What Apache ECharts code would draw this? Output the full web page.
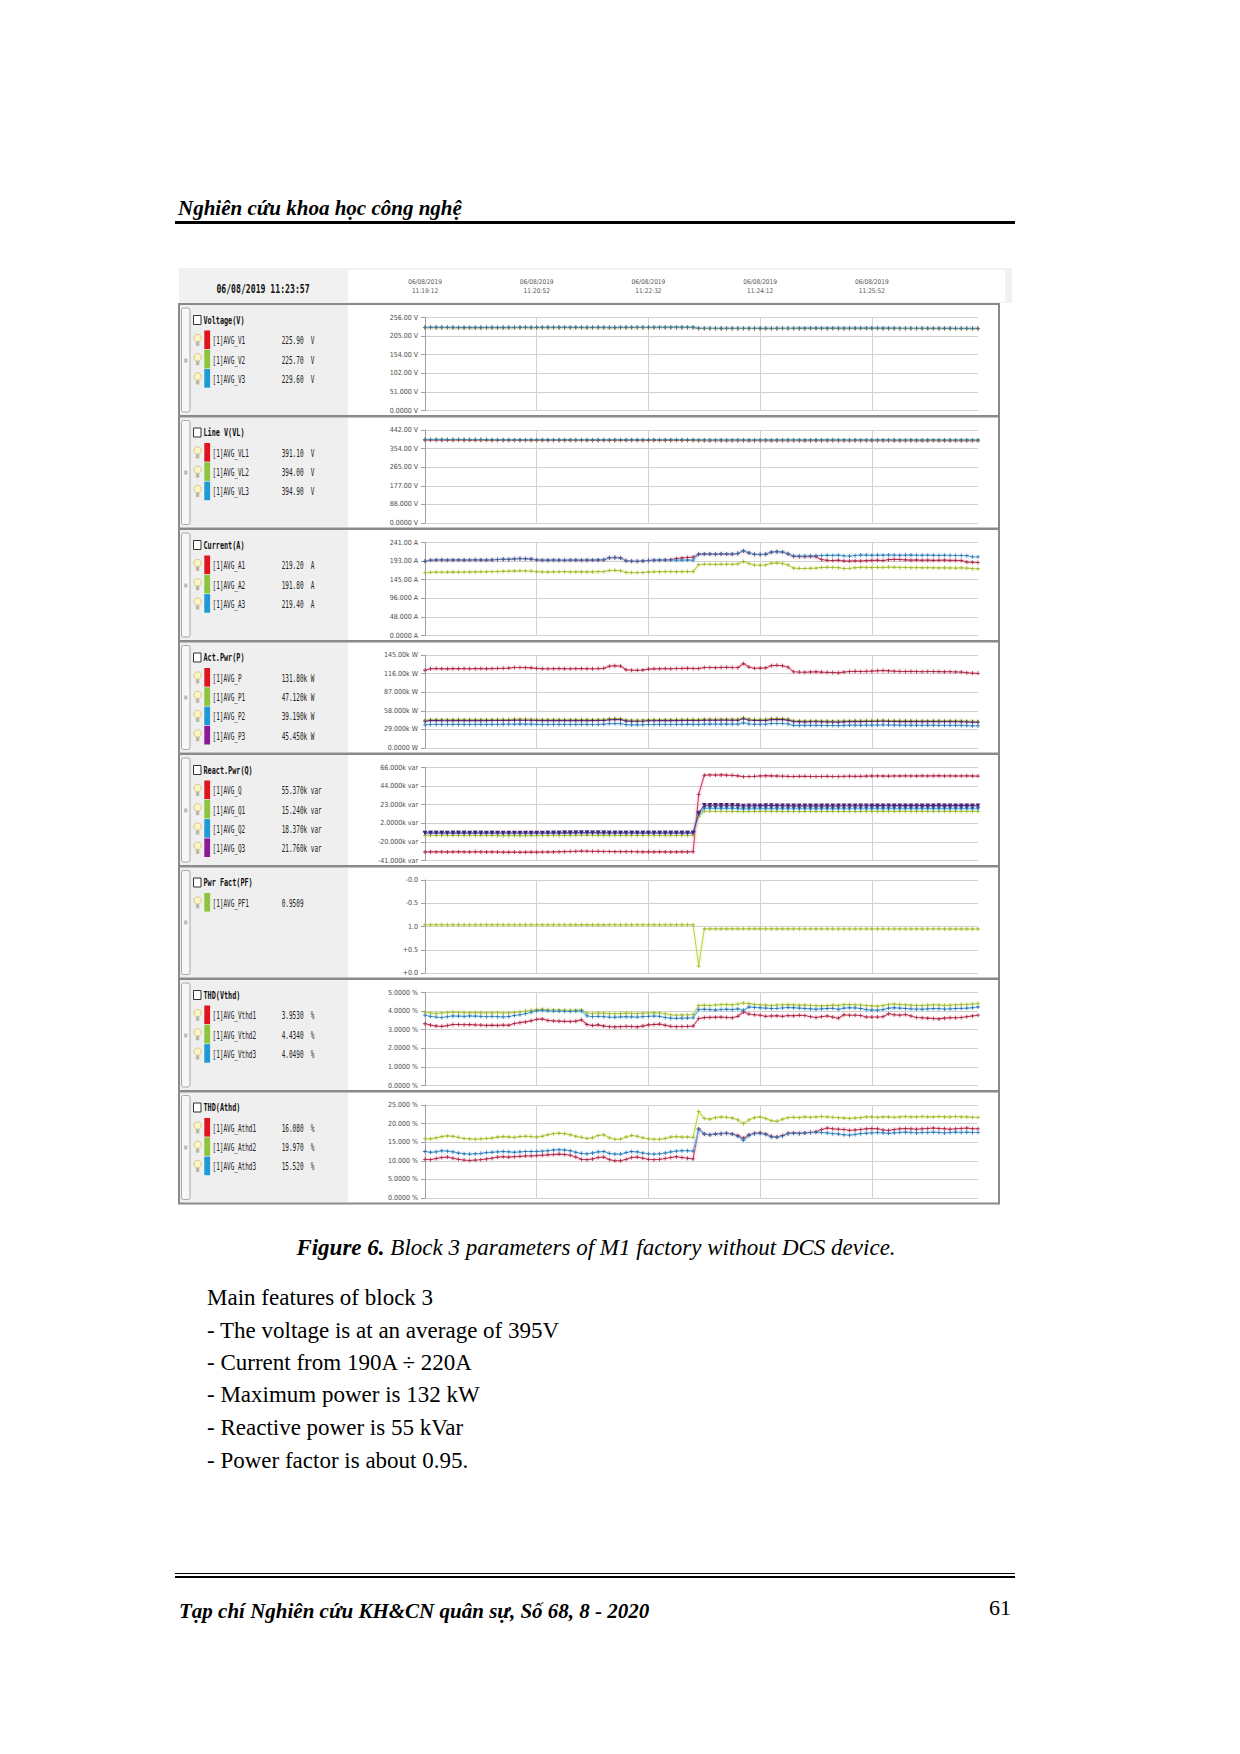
<!DOCTYPE html>
<html><head><meta charset="utf-8">
<script src="https://cdn.jsdelivr.net/npm/echarts@6/dist/echarts.min.js"></script>
<style>
body{margin:0;background:#fff;}
#page{position:relative;width:1240px;height:1754px;overflow:hidden;background:#fff;}
#chart{position:absolute;left:0;top:0;width:1240px;height:1754px;}
.t{position:absolute;white-space:nowrap;font-family:'Liberation Serif','Times New Roman',serif;color:#000;}
</style></head><body>
<div id="page">
<div id="chart"></div>
<div class="t" style="left:178px;top:197px;font-size:21px;font-weight:bold;font-style:italic;line-height:22px;">Nghiên cứu khoa học công nghệ</div>
<div style="position:absolute;left:175px;top:221px;width:840px;height:2.5px;background:#000"></div>
<div class="t" style="left:0;width:1192px;text-align:center;top:1235px;font-size:23px;font-style:italic;line-height:26px"><b>Figure 6.</b> Block 3 parameters of M1 factory without DCS device.</div>
<div class="t" style="left:207px;top:1285px;font-size:23px;line-height:26px">Main features of block 3</div>
<div class="t" style="left:207px;top:1318px;font-size:23px;line-height:26px">- The voltage is at an average of 395V</div>
<div class="t" style="left:207px;top:1350px;font-size:23px;line-height:26px">- Current from 190A ÷ 220A</div>
<div class="t" style="left:207px;top:1382px;font-size:23px;line-height:26px">- Maximum power is 132 kW</div>
<div class="t" style="left:207px;top:1415px;font-size:23px;line-height:26px">- Reactive power is 55 kVar</div>
<div class="t" style="left:207px;top:1448px;font-size:23px;line-height:26px">- Power factor is about 0.95.</div>
<div style="position:absolute;left:175px;top:1573px;width:840px;height:1px;background:#000"></div>
<div style="position:absolute;left:175px;top:1576px;width:840px;height:2px;background:#000"></div>
<div class="t" style="left:179px;top:1599px;font-size:21px;font-weight:bold;font-style:italic;line-height:24px">Tạp chí Nghiên cứu KH&amp;CN quân sự, Số 68, 8 - 2020</div>
<div class="t" style="left:989px;top:1596px;font-size:22px;line-height:24px">61</div>
</div>
<script>
// ---------------- DATA ----------------
const headerStamp = '06/08/2019 11:23:57';
const headerDate = '06/08/2019';

const V1 = [228.2,228.4,228.4,228.3,228.3,228.2,228.0,227.9,227.9,228.0,
 228.0,228.1,228.1,228.0,228.1,228.2,228.2,228.3,228.3,228.2,
 228.3,228.3,228.4,228.4,228.3,228.3,228.4,228.4,228.3,228.2,
 228.3,228.4,228.3,228.2,228.1,228.3,228.4,228.4,228.5,228.5,
 228.4,228.5,228.6,228.6,228.7,228.7,228.6,228.7,228.6,225.8,
 225.9,225.9,225.8,225.7,225.8,225.8,225.9,225.9,225.8,225.8,
 225.7,225.7,225.6,225.8,225.9,225.9,225.8,226.0,226.0,226.1,
 226.1,226.0,226.0,226.1,226.0,226.0,226.0,226.1,226.1,226.2,
 226.1,226.1,226.0,226.0,226.0,225.9,225.9,225.8,225.8,225.8,
 225.7,225.7,225.8,225.7,225.7,225.6,225.6,225.6,225.5,225.5];
const V2 = [228.0,228.2,228.2,228.1,228.1,228.0,227.8,227.7,227.7,227.8,
 227.8,227.9,227.9,227.8,227.9,228.0,228.0,228.1,228.1,228.0,
 228.1,228.1,228.2,228.2,228.1,228.1,228.2,228.2,228.1,228.0,
 228.1,228.2,228.1,228.0,227.9,228.1,228.2,228.2,228.3,228.3,
 228.2,228.3,228.4,228.4,228.5,228.5,228.4,228.5,228.4,225.6,
 225.7,225.7,225.6,225.5,225.6,225.6,225.7,225.7,225.6,225.6,
 225.5,225.5,225.4,225.6,225.7,225.7,225.6,225.8,225.8,225.9,
 225.9,225.8,225.8,225.9,225.8,225.8,225.8,225.9,225.9,226.0,
 225.9,225.9,225.8,225.8,225.8,225.7,225.7,225.6,225.6,225.6,
 225.5,225.5,225.6,225.5,225.5,225.4,225.4,225.4,225.3,225.3];
const V3 = [229.0,229.2,229.2,229.1,229.1,229.0,228.8,228.7,228.7,228.8,
 228.8,228.9,228.9,228.8,228.9,229.0,229.0,229.1,229.1,229.0,
 229.1,229.1,229.2,229.2,229.1,229.1,229.2,229.2,229.1,229.0,
 229.1,229.2,229.1,229.0,228.9,229.1,229.2,229.2,229.3,229.3,
 229.2,229.3,229.4,229.4,229.5,229.5,229.4,229.5,229.4,226.5,
 226.6,226.6,226.5,226.4,226.5,226.5,226.6,226.6,226.5,226.5,
 226.4,226.4,226.3,226.5,226.6,226.6,226.5,226.7,226.7,226.8,
 226.8,226.7,226.7,226.8,226.7,226.7,226.7,226.8,226.8,226.9,
 226.8,226.8,226.7,226.7,226.7,226.6,226.6,226.5,226.5,226.5,
 226.4,226.4,226.5,226.4,226.4,226.3,226.3,226.3,226.2,226.2];

const VL1 = [393.6,393.5,393.7,393.6,393.4,393.5,393.6,393.5,393.3,393.4,
 393.5,393.3,392.1,392.0,391.9,392.0,392.1,392.0,391.9,392.0,
 392.1,392.2,392.0,391.9,392.0,392.1,392.0,391.8,391.9,392.0,
 392.1,392.0,391.9,392.0,392.1,392.2,392.0,391.9,392.0,392.1,
 392.0,392.2,392.1,392.0,392.1,392.2,392.1,392.0,392.1,391.2,
 391.1,391.0,391.2,391.1,391.0,391.1,391.2,391.1,391.0,391.1,
 391.2,391.1,391.0,391.1,391.2,391.3,391.2,391.1,391.0,391.1,
 391.2,391.1,391.2,391.3,391.2,391.1,391.0,391.1,391.2,391.1,
 391.0,391.1,391.2,391.1,391.0,390.9,391.0,391.1,391.0,390.9,
 391.0,391.1,391.0,390.9,391.0,390.9,390.8,390.9,390.8,390.8];
const VL2 = [396.5,396.4,396.6,396.5,396.3,396.4,396.5,396.4,396.2,396.3,
 396.4,396.2,395.0,394.9,394.8,394.9,395.0,394.9,394.8,394.9,
 395.0,395.1,394.9,394.8,394.9,395.0,394.9,394.7,394.8,394.9,
 395.0,394.9,394.8,394.9,395.0,395.1,394.9,394.8,394.9,395.0,
 394.9,395.1,395.0,394.9,395.0,395.1,395.0,394.9,395.0,394.1,
 394.0,393.9,394.1,394.0,393.9,394.0,394.1,394.0,393.9,394.0,
 394.1,394.0,393.9,394.0,394.1,394.2,394.1,394.0,393.9,394.0,
 394.1,394.0,394.1,394.2,394.1,394.0,393.9,394.0,394.1,394.0,
 393.9,394.0,394.1,394.0,393.9,393.8,393.9,394.0,393.9,393.8,
 393.9,394.0,393.9,393.8,393.9,393.8,393.7,393.8,393.7,393.7];
const VL3 = [397.3,397.2,397.4,397.3,397.1,397.2,397.3,397.2,397.0,397.1,
 397.2,397.0,395.8,395.7,395.6,395.7,395.8,395.7,395.6,395.7,
 395.8,395.9,395.7,395.6,395.7,395.8,395.7,395.5,395.6,395.7,
 395.8,395.7,395.6,395.7,395.8,395.9,395.7,395.6,395.7,395.8,
 395.7,395.9,395.8,395.7,395.8,395.9,395.8,395.7,395.8,395.0,
 394.9,394.8,395.0,394.9,394.8,394.9,395.0,394.9,394.8,394.9,
 395.0,394.9,394.8,394.9,395.0,395.1,395.0,394.9,394.8,394.9,
 395.0,394.9,395.0,395.1,395.0,394.9,394.8,394.9,395.0,394.9,
 394.8,394.9,395.0,394.9,394.8,394.7,394.8,394.9,394.8,394.7,
 394.8,394.9,394.8,394.7,394.8,394.7,394.6,394.7,394.6,394.6];

const A1 = [192.3,195.0,195.5,195.8,195.3,195.5,195.6,195.2,195.5,195.8,
 195.6,195.4,195.9,196.8,197.5,197.2,198.5,199.2,198.8,198.0,
 195.8,195.2,195.0,195.3,195.1,194.9,195.2,195.4,195.0,195.2,
 195.4,195.6,196.0,201.5,202.0,200.8,193.5,192.6,192.3,193.0,
 194.5,195.0,195.3,195.6,196.4,199.5,200.8,202.0,203.2,210.5,
 211.2,211.0,210.6,211.3,211.0,210.8,212.2,219.2,214.0,210.3,
 209.8,210.6,216.0,217.1,216.3,211.5,205.0,204.5,204.3,204.6,
 204.2,196.5,195.0,194.2,195.0,193.1,192.8,193.5,193.2,194.0,
 194.6,195.0,194.3,196.5,197.2,196.8,196.0,195.2,195.6,195.0,
 195.3,194.8,195.0,195.2,194.6,194.9,194.2,190.5,189.8,189.3];
const A2 = [162.5,163.8,164.2,164.0,164.3,164.5,164.2,164.4,164.6,164.8,
 165.0,165.2,165.4,166.0,166.5,166.8,167.2,167.6,167.3,167.0,
 165.2,164.8,164.6,164.9,165.1,165.4,165.0,164.8,165.2,165.0,
 164.9,165.3,165.6,168.5,168.8,168.0,163.5,163.0,162.8,163.2,
 164.5,165.0,165.2,165.4,165.6,165.2,165.5,165.8,165.4,183.5,
 184.8,184.5,184.3,184.6,184.8,184.5,185.5,191.8,186.3,182.5,
 182.0,182.8,187.5,188.0,186.8,183.0,174.5,174.0,173.8,174.3,
 174.6,176.2,176.8,176.4,175.8,173.8,174.2,175.6,176.8,176.5,
 176.2,176.6,176.0,177.2,176.8,176.5,176.2,175.8,176.0,175.6,
 175.8,175.5,175.2,175.6,175.0,174.8,175.2,174.5,173.2,173.0];
const A3 = [192.6,195.4,195.8,196.0,195.6,195.8,195.9,195.5,195.8,196.0,
 195.9,195.7,196.2,197.0,197.8,197.5,198.8,199.5,199.0,198.3,
 196.0,195.5,195.3,195.6,195.4,195.2,195.5,195.7,195.3,195.5,
 195.7,195.9,196.3,201.8,202.3,201.0,193.8,192.9,192.6,193.3,
 194.8,195.3,195.6,195.9,195.5,195.2,195.4,195.6,195.3,210.8,
 211.5,211.3,210.9,211.6,211.3,211.1,212.5,219.4,214.3,210.6,
 210.1,210.9,216.3,217.4,216.6,211.8,206.0,205.6,205.8,206.4,
 206.8,207.5,208.0,207.6,208.2,206.5,205.8,207.2,208.6,208.3,
 208.0,208.5,208.2,208.8,208.4,208.0,208.3,208.6,208.1,207.9,
 208.2,208.0,207.6,207.9,207.8,207.5,207.2,206.8,204.0,203.5];

const P = [121.2,123.5,123.9,123.6,123.4,123.7,123.6,123.8,123.5,123.7,
 123.9,123.6,123.8,124.0,124.3,124.6,125.4,125.6,125.3,125.0,
 124.2,123.6,123.5,123.7,123.8,123.6,123.5,123.7,123.9,123.6,
 123.5,123.8,124.2,127.6,128.2,127.8,122.0,121.4,121.2,121.6,
 123.0,123.4,123.6,123.8,123.5,123.9,124.1,124.4,124.0,123.8,
 125.4,125.6,125.3,125.5,125.8,125.4,125.2,131.8,126.2,124.3,
 124.6,124.8,128.4,128.9,128.2,126.0,118.8,118.4,118.2,118.6,
 118.9,118.3,118.0,117.6,117.2,118.4,119.2,119.5,119.3,119.6,
 119.8,120.4,120.8,120.2,119.8,119.5,119.3,119.4,119.2,119.0,
 119.2,119.3,119.1,118.9,119.0,118.6,118.4,117.4,116.8,116.4];
const P1 = [43.3,44.1,44.2,44.1,44.1,44.2,44.1,44.2,44.1,44.2,
 44.2,44.1,44.2,44.3,44.4,44.5,44.8,44.9,44.8,44.6,
 44.3,44.1,44.1,44.2,44.2,44.1,44.1,44.2,44.2,44.1,
 44.1,44.2,44.3,45.6,45.8,45.6,43.6,43.4,43.3,43.4,
 43.9,44.1,44.1,44.2,44.1,44.3,44.3,44.4,44.3,44.2,
 44.8,44.9,44.7,44.8,44.9,44.8,44.7,47.1,45.1,44.4,
 44.5,44.6,45.9,46.0,45.8,45.0,42.4,42.3,42.2,42.3,
 42.5,42.2,42.1,42.0,41.9,42.3,42.6,42.7,42.6,42.7,
 42.8,43.0,43.1,42.9,42.8,42.7,42.6,42.6,42.6,42.5,
 42.6,42.6,42.5,42.4,42.5,42.3,42.3,41.9,41.7,41.6];
const P2 = [36.1,36.7,36.8,36.8,36.7,36.8,36.8,36.8,36.7,36.8,
 36.9,36.8,36.8,36.9,37.0,37.1,37.3,37.4,37.3,37.2,
 36.9,36.8,36.7,36.8,36.8,36.8,36.7,36.8,36.9,36.8,
 36.7,36.8,37.0,38.0,38.1,38.0,36.3,36.1,36.1,36.2,
 36.6,36.7,36.8,36.8,36.7,36.9,36.9,37.0,36.9,36.8,
 37.3,37.4,37.3,37.3,37.4,37.3,37.2,39.2,37.5,37.0,
 37.1,37.1,38.2,38.3,38.1,37.5,35.3,35.2,35.2,35.3,
 35.4,35.2,35.1,35.0,34.9,35.2,35.5,35.6,35.5,35.6,
 35.6,35.8,35.9,35.8,35.6,35.6,35.5,35.5,35.5,35.4,
 35.5,35.5,35.4,35.4,35.4,35.3,35.2,34.9,34.7,34.6];
const P3 = [41.8,42.7,42.9,42.7,42.6,42.7,42.7,42.8,42.7,42.7,
 42.8,42.7,42.8,42.8,42.9,43.0,43.3,43.3,43.2,43.2,
 43.0,42.7,42.7,42.7,42.8,42.7,42.7,42.7,42.8,42.7,
 42.7,42.8,42.9,44.0,44.3,44.2,42.1,41.9,41.8,42.0,
 42.5,42.6,42.7,42.8,42.7,42.7,42.9,43.0,42.8,42.8,
 43.3,43.3,43.3,43.4,43.5,43.3,43.3,45.5,43.6,42.9,
 43.0,43.1,44.3,44.6,44.3,43.5,41.1,40.9,40.8,41.0,
 41.0,40.9,40.8,40.6,40.4,40.9,41.1,41.2,41.2,41.3,
 41.4,41.6,41.8,41.5,41.4,41.2,41.2,41.3,41.1,41.1,
 41.1,41.2,41.2,41.1,41.1,41.0,40.9,40.6,40.4,40.2];

const Q = [-31.2,-31.0,-31.1,-31.0,-31.2,-31.1,-31.0,-31.1,-31.2,-31.0,
 -31.1,-31.2,-31.1,-31.3,-31.4,-31.4,-31.3,-31.5,-31.4,-31.3,
 -31.4,-31.3,-31.2,-31.1,-31.0,-30.8,-30.7,-30.4,-30.2,-30.3,
 -30.4,-30.5,-30.6,-30.7,-30.8,-30.9,-30.8,-30.9,-31.0,-31.1,
 -31.0,-31.1,-31.0,-31.1,-31.2,-31.1,-31.0,-31.1,-31.0,35.0,
 57.2,57.4,57.3,57.5,57.2,57.0,56.4,55.4,55.6,55.9,
 56.3,56.6,56.4,56.2,56.0,55.8,55.7,55.8,55.9,55.7,
 55.6,55.7,55.8,55.6,55.7,55.9,56.0,55.8,55.9,56.1,
 56.2,56.3,56.2,56.1,56.3,56.2,56.4,56.3,56.2,56.4,
 56.3,56.4,56.5,56.3,56.4,56.2,56.3,56.4,56.2,56.1];
const Q1 = [-12.3,-12.2,-12.3,-12.2,-12.3,-12.3,-12.2,-12.3,-12.3,-12.2,
 -12.3,-12.3,-12.3,-12.4,-12.4,-12.4,-12.3,-12.4,-12.4,-12.3,
 -12.4,-12.3,-12.3,-12.3,-12.2,-12.2,-12.1,-12.0,-11.9,-12.0,
 -12.0,-12.1,-12.1,-12.1,-12.2,-12.2,-12.2,-12.2,-12.3,-12.3,
 -12.3,-12.3,-12.2,-12.3,-12.3,-12.3,-12.2,-12.3,-12.3,9.8,
 15.6,15.7,15.6,15.7,15.6,15.5,15.4,15.24,15.3,15.4,
 15.5,15.6,15.5,15.5,15.4,15.4,15.3,15.4,15.4,15.3,
 15.3,15.3,15.4,15.3,15.3,15.4,15.4,15.4,15.4,15.5,
 15.5,15.5,15.5,15.5,15.5,15.5,15.6,15.5,15.5,15.6,
 15.5,15.6,15.6,15.5,15.6,15.5,15.5,15.6,15.5,15.5];
const Q2 = [-9.6,-9.5,-9.5,-9.5,-9.6,-9.5,-9.5,-9.5,-9.6,-9.5,
 -9.5,-9.6,-9.5,-9.6,-9.6,-9.6,-9.6,-9.7,-9.6,-9.6,
 -9.6,-9.6,-9.5,-9.5,-9.5,-9.4,-9.4,-9.3,-9.2,-9.2,
 -9.3,-9.3,-9.3,-9.3,-9.3,-9.4,-9.3,-9.4,-9.4,-9.5,
 -9.4,-9.5,-9.5,-9.5,-9.5,-9.5,-9.5,-9.5,-9.4,11.6,
 19.0,19.1,19.0,19.1,19.0,18.9,18.7,18.37,18.4,18.5,
 18.7,18.8,18.7,18.6,18.6,18.5,18.5,18.5,18.6,18.5,
 18.4,18.5,18.5,18.4,18.5,18.5,18.6,18.5,18.5,18.6,
 18.6,18.7,18.6,18.6,18.7,18.6,18.7,18.7,18.6,18.7,
 18.7,18.7,18.7,18.7,18.7,18.6,18.7,18.7,18.6,18.6];
const Q3 = [-9.3,-9.3,-9.3,-9.3,-9.3,-9.3,-9.3,-9.3,-9.3,-9.3,
 -9.3,-9.3,-9.3,-9.3,-9.4,-9.4,-9.4,-9.4,-9.4,-9.4,
 -9.4,-9.4,-9.4,-9.3,-9.3,-9.2,-9.2,-9.1,-9.1,-9.1,
 -9.1,-9.1,-9.2,-9.3,-9.3,-9.3,-9.3,-9.3,-9.3,-9.3,
 -9.3,-9.3,-9.3,-9.3,-9.4,-9.3,-9.3,-9.3,-9.3,13.6,
 22.6,22.6,22.7,22.7,22.6,22.6,22.3,21.76,21.9,22.0,
 22.1,22.2,22.2,22.1,22.0,21.9,21.9,21.9,21.9,21.9,
 21.9,21.9,21.9,21.9,21.9,22.0,22.0,21.9,22.0,22.0,
 22.1,22.1,22.1,22.0,22.1,22.1,22.1,22.1,22.1,22.1,
 22.1,22.1,22.2,22.1,22.1,22.1,22.1,22.1,22.1,22.0];

// signed power factor: negative = leading ("-" half of the scale)
const PF1 = [-0.963,-0.963,-0.963,-0.963,-0.963,-0.963,-0.963,-0.963,-0.963,-0.963,
 -0.963,-0.963,-0.963,-0.963,-0.963,-0.963,-0.963,-0.963,-0.963,-0.963,
 -0.963,-0.963,-0.963,-0.963,-0.963,-0.963,-0.964,-0.965,-0.965,-0.964,
 -0.964,-0.964,-0.964,-0.963,-0.963,-0.963,-0.963,-0.963,-0.963,-0.963,
 -0.963,-0.963,-0.963,-0.963,-0.963,-0.963,-0.963,-0.963,-0.963,0.150,
 0.948,0.948,0.948,0.948,0.948,0.949,0.950,0.951,0.950,0.949,
 0.948,0.948,0.948,0.948,0.948,0.948,0.948,0.947,0.947,0.947,
 0.947,0.947,0.947,0.947,0.947,0.947,0.947,0.947,0.947,0.947,
 0.947,0.947,0.947,0.947,0.947,0.947,0.947,0.947,0.947,0.947,
 0.947,0.947,0.947,0.947,0.946,0.946,0.946,0.946,0.946,0.946];

const Vthd1 = [3.32,3.25,3.20,3.18,3.22,3.28,3.28,3.27,3.28,3.26,
 3.25,3.23,3.24,3.23,3.25,3.24,3.33,3.38,3.42,3.48,
 3.56,3.58,3.50,3.47,3.46,3.45,3.44,3.46,3.53,3.28,
 3.22,3.26,3.20,3.16,3.15,3.16,3.18,3.17,3.15,3.20,
 3.26,3.28,3.30,3.24,3.18,3.16,3.17,3.18,3.20,3.60,
 3.65,3.66,3.67,3.68,3.66,3.64,3.72,3.953,3.84,3.80,
 3.78,3.72,3.74,3.75,3.72,3.76,3.75,3.78,3.76,3.70,
 3.66,3.70,3.74,3.68,3.62,3.80,3.78,3.78,3.76,3.68,
 3.68,3.68,3.70,3.86,3.80,3.78,3.82,3.74,3.66,3.64,
 3.62,3.60,3.58,3.62,3.64,3.64,3.66,3.70,3.74,3.78];
const Vthd2 = [3.94,3.90,3.88,3.90,3.92,3.94,3.93,3.92,3.91,3.93,
 3.92,3.90,3.91,3.92,3.90,3.91,3.93,3.96,4.00,4.04,
 4.08,4.10,4.07,4.06,4.05,4.05,4.04,4.05,4.06,3.90,
 3.88,3.90,3.89,3.87,3.86,3.88,3.89,3.88,3.87,3.89,
 3.90,3.91,3.90,3.86,3.80,3.78,3.79,3.80,3.82,4.30,
 4.32,4.30,4.33,4.35,4.36,4.34,4.38,4.434,4.40,4.36,
 4.34,4.32,4.30,4.33,4.34,4.36,4.34,4.32,4.33,4.31,
 4.30,4.28,4.30,4.32,4.30,4.36,4.35,4.34,4.33,4.30,
 4.28,4.26,4.30,4.36,4.38,4.36,4.34,4.32,4.31,4.30,
 4.32,4.34,4.33,4.31,4.32,4.34,4.35,4.36,4.38,4.42];
const Vthd3 = [3.78,3.72,3.68,3.66,3.70,3.74,3.73,3.72,3.74,3.73,
 3.72,3.70,3.72,3.70,3.69,3.71,3.76,3.80,3.86,3.94,
 4.02,4.04,4.01,4.00,4.00,3.99,3.98,4.00,4.01,3.74,
 3.70,3.72,3.70,3.68,3.67,3.69,3.70,3.69,3.68,3.70,
 3.72,3.73,3.72,3.66,3.62,3.61,3.62,3.63,3.64,4.08,
 4.10,4.08,4.06,4.09,4.10,4.08,4.12,4.049,4.22,4.20,
 4.18,4.16,4.14,4.15,4.17,4.20,4.18,4.16,4.14,4.12,
 4.10,4.12,4.14,4.15,4.10,4.16,4.18,4.17,4.14,4.08,
 4.06,4.05,4.08,4.16,4.18,4.16,4.14,4.12,4.11,4.10,
 4.12,4.14,4.13,4.11,4.12,4.14,4.15,4.16,4.18,4.22];

const Athd1 = [10.4,10.3,10.6,10.9,11.0,10.7,10.4,10.2,10.1,10.2,
 10.3,10.5,10.7,11.0,11.1,11.0,11.1,11.2,11.3,11.3,
 11.4,11.5,11.6,11.7,11.8,11.7,11.5,11.0,10.4,10.3,
 10.5,10.9,11.0,10.3,10.0,10.0,10.4,10.9,11.0,10.7,
 10.4,10.3,10.4,10.6,10.9,11.1,10.9,10.7,10.5,18.6,
 17.2,17.0,17.2,17.3,17.4,17.2,16.8,16.08,17.0,17.4,
 17.5,17.2,16.6,16.4,16.8,17.4,17.5,17.4,17.5,17.6,
 17.8,18.4,18.8,18.6,18.5,18.4,18.2,18.3,18.4,18.6,
 18.7,18.6,18.3,18.2,18.4,18.6,18.7,18.6,18.5,18.6,
 18.7,18.8,18.7,18.6,18.5,18.6,18.7,18.8,18.6,18.6];
const Athd2 = [15.9,15.9,16.2,16.5,16.7,16.6,16.3,16.0,15.9,15.8,
 15.9,16.0,16.1,16.4,16.5,16.4,16.3,16.5,16.6,16.5,
 16.4,16.6,17.0,17.3,17.4,17.3,17.0,16.6,16.3,16.0,
 16.2,16.8,17.0,16.2,15.8,15.8,16.4,16.8,16.6,16.2,
 15.9,15.8,15.8,16.0,16.4,16.5,16.4,16.4,16.3,23.3,
 21.4,21.2,21.6,21.8,21.7,21.5,21.0,19.97,21.0,21.6,
 21.8,21.4,20.8,20.6,21.2,21.6,21.7,21.6,21.8,21.7,
 21.8,21.9,21.8,21.7,21.6,21.5,21.4,21.5,21.6,21.8,
 21.8,21.7,21.8,21.8,21.7,21.8,21.9,21.8,21.8,21.9,
 21.8,21.8,21.9,21.8,21.8,21.9,21.8,21.8,21.7,21.7];
const Athd3 = [12.5,12.3,12.4,12.7,12.6,12.4,12.1,11.9,11.8,11.9,
 12.0,12.2,12.3,12.4,12.5,12.4,12.3,12.4,12.5,12.5,
 12.5,12.6,12.7,12.9,13.0,12.9,12.7,12.3,12.0,11.9,
 12.1,12.4,12.5,12.0,11.8,11.8,12.2,12.5,12.4,12.1,
 11.9,11.8,11.9,12.1,12.4,12.6,12.7,12.7,12.6,18.5,
 17.2,17.0,17.2,17.3,17.4,17.2,16.6,15.52,16.8,17.3,
 17.4,17.1,16.4,16.3,16.7,17.3,17.4,17.3,17.5,17.6,
 17.7,17.6,17.5,17.3,17.2,17.0,16.9,17.1,17.3,17.4,
 17.5,17.6,17.5,17.4,17.5,17.6,17.7,17.6,17.5,17.6,
 17.6,17.7,17.6,17.5,17.6,17.7,17.6,17.7,17.6,17.6];

// tick labels
const voltTicks  = ['0.0000 V','51.000 V','102.00 V','154.00 V','205.00 V','256.00 V'];
const lineVTicks = ['0.0000 V','88.000 V','177.00 V','265.00 V','354.00 V','442.00 V'];
const curTicks   = ['0.0000 A','48.000 A','96.000 A','145.00 A','193.00 A','241.00 A'];
const pwrTicks   = ['0.0000 W','29.000k W','58.000k W','87.000k W','116.00k W','145.00k W'];
const reactTicks = ['-41.000k var','-20.000k var','2.0000k var','23.000k var','44.000k var','66.000k var'];
const pfTicks    = ['+0.0','+0.5','1.0','-0.5','-0.0'];
const vthdTicks  = ['0.0000 %','1.0000 %','2.0000 %','3.0000 %','4.0000 %','5.0000 %'];
const athdTicks  = ['0.0000 %','5.0000 %','10.000 %','15.000 %','20.000 %','25.000 %'];

// legend names & readings
const voltNames = ['[1]AVG_V1','[1]AVG_V2','[1]AVG_V3'];
const voltRead  = ['225.90  V','225.70  V','229.60  V'];
const lineVNames = ['[1]AVG_VL1','[1]AVG_VL2','[1]AVG_VL3'];
const lineVRead  = ['391.10  V','394.00  V','394.90  V'];
const curNames = ['[1]AVG_A1','[1]AVG_A2','[1]AVG_A3'];
const curRead  = ['219.20  A','191.80  A','219.40  A'];
const pwrNames = ['[1]AVG_P','[1]AVG_P1','[1]AVG_P2','[1]AVG_P3'];
const pwrRead  = ['131.80k W','47.120k W','39.190k W','45.450k W'];
const reactNames = ['[1]AVG_Q','[1]AVG_Q1','[1]AVG_Q2','[1]AVG_Q3'];
const reactRead  = ['55.370k var','15.240k var','18.370k var','21.760k var'];
const pfNames = ['[1]AVG_PF1'];
const pfRead  = ['0.9509'];
const vthdNames = ['[1]AVG_Vthd1','[1]AVG_Vthd2','[1]AVG_Vthd3'];
const vthdRead  = ['3.9530  %','4.4340  %','4.0490  %'];
const athdNames = ['[1]AVG_Athd1','[1]AVG_Athd2','[1]AVG_Athd3'];
const athdRead  = ['16.080  %','19.970  %','15.520  %'];

// time categories, 5 s sampling from 11:19:12
const times = [];
for (let i = 0; i < 100; i++) {
  const s = 11*3600 + 19*60 + 12 + 5*i;
  const hh = Math.floor(s/3600), mm = Math.floor((s%3600)/60), ss = s%60;
  times.push(String(hh).padStart(2,'0')+':'+String(mm).padStart(2,'0')+':'+String(ss).padStart(2,'0'));
}

// ---------------- STYLE ----------------
const COL = {
  red:    {bar:'#e0141e', line:'#d63a5c', mark:'#9a2a48', glow:'rgba(240,120,150,0.7)'},
  green:  {bar:'#8cc43c', line:'#bcd443', mark:'#9cb532', glow:'rgba(220,235,150,0.8)'},
  blue:   {bar:'#1e9ad6', line:'#4cb6e6', mark:'#3a6aa6', glow:'rgba(150,215,245,0.8)'},
  purple: {bar:'#8c1a96', line:'#6a2c88', mark:'#4a2070', glow:'rgba(190,140,210,0.6)'}
};
const PLUS = 'path://M2,0H3V2H5V3H3V5H2V3H0V2H2Z';

const panels = [
  {title:'Voltage(V)', names:voltNames, read:voltRead, ticks:voltTicks, min:0, max:256, interval:51.2,
   series:[[V1,'red'],[V2,'green'],[V3,'blue']]},
  {title:'Line V(VL)', names:lineVNames, read:lineVRead, ticks:lineVTicks, min:0, max:442, interval:88.4,
   series:[[VL1,'red'],[VL2,'green'],[VL3,'blue']]},
  {title:'Current(A)', names:curNames, read:curRead, ticks:curTicks, min:0, max:241, interval:48.2,
   series:[[A1,'red'],[A2,'green'],[A3,'blue']]},
  {title:'Act.Pwr(P)', names:pwrNames, read:pwrRead, ticks:pwrTicks, min:0, max:145, interval:29,
   series:[[P,'red'],[P1,'green'],[P2,'blue'],[P3,'purple']]},
  {title:'React.Pwr(Q)', names:reactNames, read:reactRead, ticks:reactTicks, min:-41, max:66, interval:21.4,
   series:[[Q,'red'],[Q1,'green'],[Q2,'blue',true],[Q3,'purple',true]]},
  {title:'Pwr Fact(PF)', names:pfNames, read:pfRead, ticks:pfTicks, min:0, max:2, interval:0.5,
   series:[[PF1.map(p => p < 0 ? 2 + p : p),'green']]},
  {title:'THD(Vthd)', names:vthdNames, read:vthdRead, ticks:vthdTicks, min:0, max:5, interval:1,
   series:[[Vthd1,'red'],[Vthd2,'green'],[Vthd3,'blue']]},
  {title:'THD(Athd)', names:athdNames, read:athdRead, ticks:athdTicks, min:0, max:25, interval:5,
   series:[[Athd1,'red'],[Athd2,'green'],[Athd3,'blue']]}
];
const legendColors = [
  ['red','green','blue'],['red','green','blue'],['red','green','blue'],
  ['red','green','blue','purple'],['red','green','blue','purple'],['green'],
  ['red','green','blue'],['red','green','blue']
];

const BOX_TOP0 = 304, BOX_STEP = 112.5, BOX_H = 112, BOX_L = 179, BOX_R = 999;
const PLOT_L = 425, PLOT_W = 553, PLOT_OFF = 13.5, PLOT_H = 93;
const MONO = "'DejaVu Sans Mono', monospace";
const AXFONT = "'Liberation Sans Narrow','DejaVu Sans Condensed','Liberation Sans',sans-serif";

const grids = [], xAxes = [], yAxes = [], series = [], gfx = [];

function T(x, y, text, o) {
  o = o || {};
  return {type:'text', x:x, y:y, scaleX:o.sx || 0.55, z:o.z || 50, silent:true,
    style:{text:text, font:(o.bold?'bold ':'') + (o.fs||11) + 'px ' + MONO, fill:o.fill || '#222',
      align:o.align || 'left', textAlign:o.align || 'left', verticalAlign:'middle', textVerticalAlign:'middle'}};
}
function R(x, y, w, h, fill, stroke, lw, z, r) {
  return {type:'rect', z:z === undefined ? -10 : z, silent:true, shape:{x:x, y:y, width:w, height:h, r:r||0},
    style:{fill:fill, stroke:stroke || null, lineWidth:lw || 0}};
}

// header strip
gfx.push(R(179, 268, 833, 35, '#f1f1f1', null, 0, -20));
gfx.push(R(348, 270, 657, 32, '#ffffff', null, 0, -19));
gfx.push(T(263, 288, headerStamp, {bold:true, fs:12, sx:0.68, align:'center', fill:'#111'}));

panels.forEach((pn, k) => {
  const top = BOX_TOP0 + BOX_STEP * k;
  gfx.push(R(BOX_L, top, BOX_R - BOX_L, BOX_H, '#ffffff', null, 0, -18));
  gfx.push(R(BOX_L + 1, top + 1, 348 - BOX_L - 1, BOX_H - 2, '#efefef', null, 0, -17));
  gfx.push(R(BOX_L, top, BOX_R - BOX_L, BOX_H, 'none', '#8a8a8a', 2, 40));
  gfx.push(R(181.5, top + 4, 8.5, BOX_H - 8, '#f7f7f7', '#a8a8a8', 1, 41, 2));
  gfx.push(T(185.7, top + BOX_H / 2, '≡', {fs:8, sx:0.8, align:'center', fill:'#8a8a8a'}));
  gfx.push(R(193.5, top + 11.5, 7.5, 9, '#ffffff', '#333333', 1, 41));
  gfx.push(T(203.5, top + 16, pn.title, {bold:true, fs:11, sx:0.62, fill:'#111'}));
  pn.names.forEach((nm, r) => {
    const ry = top + 36.5 + 19.3 * r;
    const c = COL[legendColors[k][r]];
    gfx.push({type:'circle', z:41, silent:true, shape:{cx:197.6, cy:ry - 2.5, r:3.7},
      style:{fill:'#fbf4c6', stroke:'#cdbf72', lineWidth:0.8}});
    gfx.push(R(195.9, ry + 1.2, 3.4, 4.2, '#b9b9a6', null, 0, 41));
    gfx.push(R(204.3, ry - 10, 5.8, 18.6, c.bar, null, 0, 41));
    gfx.push(T(212.5, ry, nm, {fs:11, sx:0.55}));
    gfx.push(T(281.7, ry, pn.read[r], {fs:11, sx:0.55}));
  });

  grids.push({left:PLOT_L, width:PLOT_W, top:top + PLOT_OFF, height:PLOT_H, containLabel:false});
  xAxes.push({type:'category', gridIndex:k, data:times, boundaryGap:false,
    axisLine:{show:false}, axisTick:{show:false}, axisLabel:{show:false},
    splitLine:{show:true, interval:(i) => i > 0 && i % 20 === 0, lineStyle:{color:'#d2d2d2', width:1}}});
  const mn = pn.min, iv = pn.interval, tk = pn.ticks;
  yAxes.push({type:'value', gridIndex:k, min:pn.min, max:pn.max, interval:pn.interval,
    axisLine:{show:true, lineStyle:{color:'#a0a0a0', width:1}},
    axisTick:{show:true, length:4, lineStyle:{color:'#a0a0a0'}},
    splitLine:{show:true, lineStyle:{color:'#d2d2d2', width:1}},
    axisLabel:{margin:7, fontSize:7, fontFamily:AXFONT, color:'#4a4a4a',
      formatter:(v) => { const j = Math.round((v - mn) / iv); return tk[j] !== undefined ? tk[j] : ''; }}});
  pn.series.forEach((sd) => {
    const c = COL[sd[1]];
    const tri = !!sd[2];
    series.push({type:'line', xAxisIndex:k, yAxisIndex:k, data:sd[0], silent:true, animation:false,
      symbol: tri ? 'triangle' : PLUS, symbolRotate: tri ? 180 : 0, symbolSize: tri ? 4.5 : 4,
      showSymbol:true, showAllSymbol:true,
      lineStyle:{color:c.line, width:1.1, shadowColor:c.glow, shadowBlur:3},
      itemStyle:{color:c.mark}, emphasis:{disabled:true}});
  });
});

// header time axis
grids.push({left:PLOT_L, width:PLOT_W, top:271, height:1});
xAxes.push({type:'category', gridIndex:8, data:times, boundaryGap:false, position:'bottom',
  axisLine:{show:false}, axisTick:{show:false}, splitLine:{show:false},
  axisLabel:{interval:(i) => i % 20 === 0, margin:5, fontSize:6.5, lineHeight:9, fontFamily:AXFONT, color:'#555',
    formatter:(v) => headerDate + '\n' + v}});
yAxes.push({type:'value', gridIndex:8, show:false});

const chart = echarts.init(document.getElementById('chart'), null, {renderer:'svg', width:1240, height:1754});
chart.setOption({
  animation:false,
  grid:grids, xAxis:xAxes, yAxis:yAxes, series:series,
  graphic:{elements:gfx}
});
</script>
</body></html>
